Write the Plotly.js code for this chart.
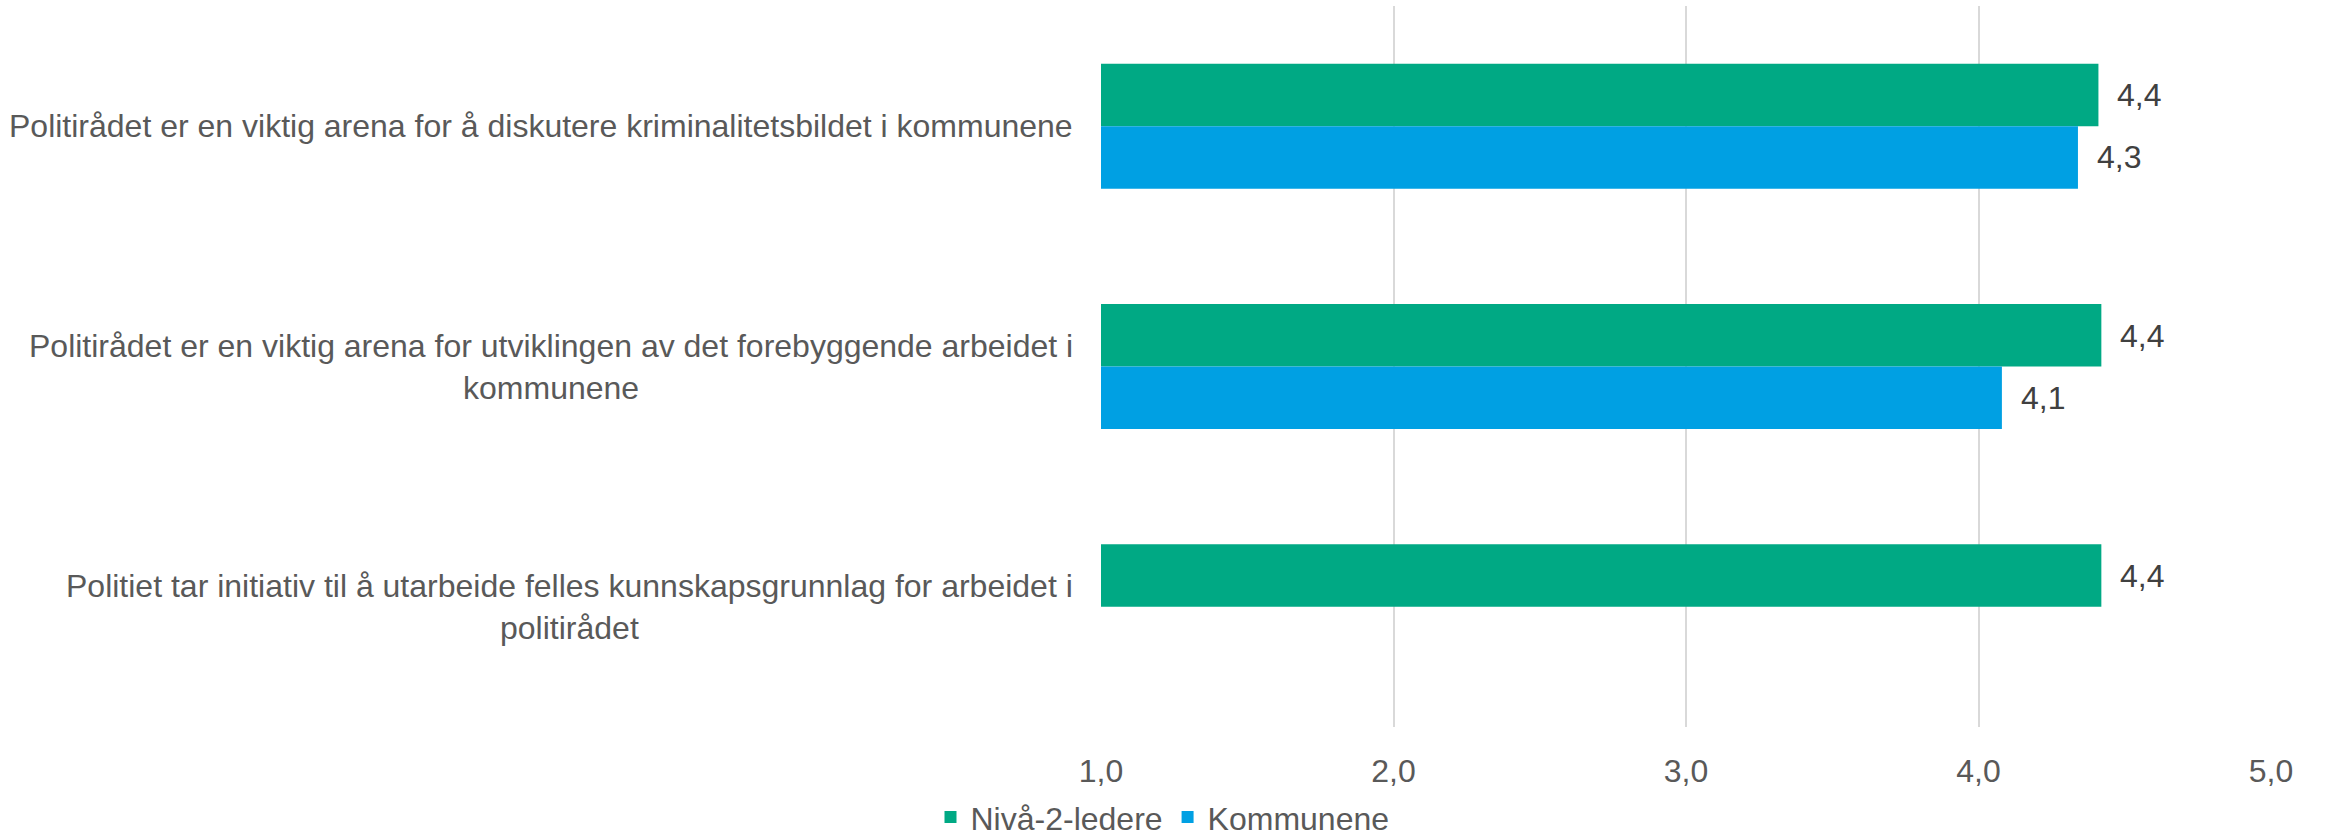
<!DOCTYPE html>
<html>
<head>
<meta charset="utf-8">
<script src="https://cdn.plot.ly/plotly-3.0.1.min.js"></script>
<style>
  html, body { margin: 0; padding: 0; background: #ffffff; }
  #chart { width: 2325px; height: 840px; }
</style>
</head>
<body>
<div id="chart"></div>
<script>
// ---- data ----
const categories = [
  "Politirådet er en viktig arena for å diskutere kriminalitetsbildet i kommunene",
  "Politirådet er en viktig arena for utviklingen av det forebyggende arbeidet i<br>kommunene",
  "Politiet tar initiativ til å utarbeide felles kunnskapsgrunnlag for arbeidet i<br>politirådet"
];
const seriesNames = ["Nivå-2-ledere", "Kommunene"];
const nivaa2 = [4.41, 4.42, 4.42];
const kommunene = [4.34, 4.08, null];
const xTicks = [1, 2, 3, 4, 5];
const xTickLabels = ["1,0", "2,0", "3,0", "4,0", "5,0"];

// ---- style ----
const green = "#00A984";
const blue = "#00A0E3";
const textColor = "#595959";
const fontFamily = "'Liberation Sans', Arial, sans-serif";
const fs = 32;

const traces = [
  {
    type: "bar", orientation: "h", name: seriesNames[0],
    y: categories, x: nivaa2,
    marker: { color: green },
    hoverinfo: "none"
  },
  {
    type: "bar", orientation: "h", name: seriesNames[1],
    y: categories, x: kommunene,
    marker: { color: blue },
    hoverinfo: "none"
  }
];

const fmt = v => v.toFixed(1).replace(".", ",");
const annotations = [];
// category labels (centered multi-line, right of box near axis)
categories.forEach(c => {
  annotations.push({
    xref: "paper", yref: "y", x: 0, y: c, text: c,
    xanchor: "right", yanchor: "middle", align: "center",
    xshift: -26, showarrow: false,
    font: { family: fontFamily, size: fs, color: textColor }
  });
});
// data labels
const barOffset = 31;
[nivaa2, kommunene].forEach((series, si) => {
  series.forEach((v, i) => {
    if (v === null) return;
    annotations.push({
      xref: "x", yref: "y", x: v, y: categories[i], text: fmt(v),
      xanchor: "left", yanchor: "middle", showarrow: false,
      xshift: 17, yshift: si === 0 ? barOffset : -barOffset,
      font: { family: fontFamily, size: fs, color: "#404040" }
    });
  });
});

const layout = {
  width: 2325, height: 840,
  paper_bgcolor: "#ffffff", plot_bgcolor: "#ffffff",
  margin: { l: 1101, r: 54, t: 6, b: 113, pad: 0 },
  font: { family: fontFamily, size: fs, color: textColor },
  barmode: "group", bargap: 0.48, bargroupgap: 0,
  showlegend: true,
  legend: {
    orientation: "h", xref: "container", yref: "container",
    x: 0.5, xanchor: "center", y: 0.027, yanchor: "middle",
    font: { family: fontFamily, size: fs, color: textColor },
    traceorder: "normal", itemwidth: 30
  },
  xaxis: {
    range: [1, 5], tickvals: xTicks, ticktext: xTickLabels,
    showgrid: true, gridcolor: "#d9d9d9", gridwidth: 2,
    zeroline: false, showline: false, ticks: "",
    ticklabelstandoff: 22,
    tickfont: { family: fontFamily, size: fs, color: textColor },
    fixedrange: true
  },
  yaxis: {
    type: "category", range: [2.5, -0.5],
    showticklabels: false, showgrid: false, zeroline: false, showline: false,
    ticks: "", fixedrange: true
  },
  annotations: annotations
};

Plotly.newPlot("chart", traces, layout, { staticPlot: true, displayModeBar: false });
</script>
</body>
</html>
